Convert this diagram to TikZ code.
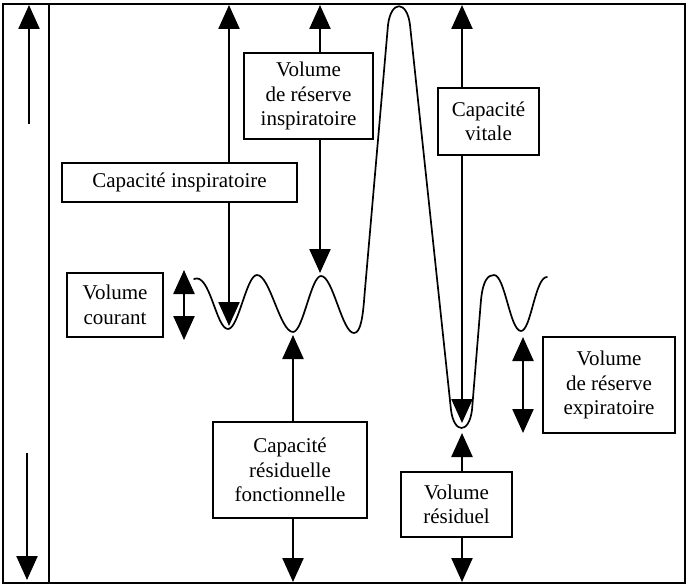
\documentclass[tikz,border=0pt]{standalone}
\usepackage{fontspec}
\setmainfont{Liberation Serif}
\usetikzlibrary{arrows.meta}
\tikzset{
  frame/.style={line width=2pt},
  onetip/.style={line width=2.4pt, -{Triangle[length=24pt,width=21pt]}},
  twotips/.style={line width=2.4pt, {Triangle[length=24pt,width=21pt]}-{Triangle[length=24pt,width=21pt]}},
  labelbox/.style={draw, line width=2pt, fill=white, align=center, inner sep=0pt,
    font=\fontsize{21}{24.5}\selectfont},
  breath/.style={line width=1.7pt, line join=round, line cap=round},
}
\begin{document}
\begin{tikzpicture}[x=1pt, y=-1pt]
\useasboundingbox (0,0) rectangle (688,588);

% frame and time axis strip
\draw[frame] (3,4) rectangle (685,583);
\draw[frame] (49,4) -- (49,583);

% end points of the arrows
\coordinate (upA) at (29,124);   \coordinate (upB) at (29,5);
\coordinate (dnA) at (27,453);   \coordinate (dnB) at (27,580);
\coordinate (ciTop) at (229,5);  \coordinate (ciLow) at (229,326);
\coordinate (vriTop) at (320,5); \coordinate (vriLow) at (320,273);
\coordinate (cvTop) at (462,5);  \coordinate (cvLow) at (462,423);
\coordinate (vcTop) at (184,270); \coordinate (vcLow) at (184,340);
\coordinate (crfTop) at (293,335); \coordinate (crfLow) at (293,582);
\coordinate (vrTop) at (462,433); \coordinate (vrLow) at (462,582);
\coordinate (vreTop) at (523,337); \coordinate (vreLow) at (523,433);

% spirogram trace
\draw[breath] (194,279) .. controls (210,272) and (216,329) .. (228,329)
  .. controls (238.6,329) and (246.4,275) .. (257,275)
  .. controls (270,275) and (280,332) .. (293,332)
  .. controls (303,332) and (311,276) .. (321,276)
  .. controls (333,276) and (342,333) .. (354,333)
  .. controls (361,333) and (363,315) .. (364.5,295)
  -- (388,25) .. controls (391,0) and (407,0) .. (410,25)
  -- (451,410) .. controls (454,434) and (469,434) .. (472,410)
  -- (481,300) .. controls (483,280) and (488,275) .. (494,275)
  .. controls (505,275) and (510,331) .. (521,331)
  .. controls (531,331) and (535,277) .. (547,277);

% arrows
\draw[onetip] (upA) -- (upB);
\draw[onetip] (dnA) -- (dnB);
\draw[twotips] (ciTop) -- (ciLow);
\draw[twotips] (vriTop) -- (vriLow);
\draw[twotips] (cvTop) -- (cvLow);
\draw[twotips] (vcTop) -- (vcLow);
\draw[twotips] (crfTop) -- (crfLow);
\draw[twotips] (vrTop) -- (vrLow);
\draw[twotips] (vreTop) -- (vreLow);

% labels
\node[labelbox, minimum width=235pt, minimum height=39pt] (ci) at (179.5,182.5) {Capacité inspiratoire};
\node[labelbox, minimum width=129pt, minimum height=86pt] (vri) at (308.5,96) {Volume\\de réserve\\inspiratoire};
\node[labelbox, minimum width=101pt, minimum height=67pt] (cv) at (488.5,121.5) {Capacité\\vitale};
\node[labelbox, minimum width=96pt, minimum height=64pt] (vc) at (115,305) {Volume\\courant};
\node[labelbox, minimum width=154pt, minimum height=96pt] (crf) at (290,470) {Capacité\\résiduelle\\fonctionnelle};
\node[labelbox, minimum width=111pt, minimum height=65pt] (vr) at (456.5,504.5) {Volume\\résiduel};
\node[labelbox, minimum width=132pt, minimum height=96pt] (vre) at (609,385) {Volume\\de réserve\\expiratoire};
\end{tikzpicture}
\end{document}
